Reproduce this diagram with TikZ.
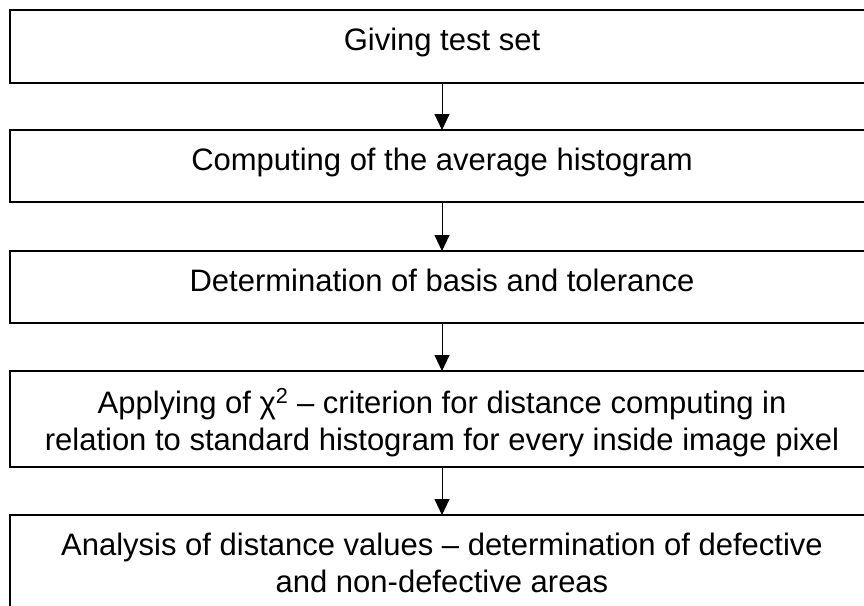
\documentclass[tikz,border=0pt]{standalone}
\usepackage{fontspec}
\setmainfont{Liberation Sans}
\usetikzlibrary{arrows.meta}
\begin{document}
\begin{tikzpicture}[x=1pt,y=-1pt,
  box/.style={draw,line width=2pt,minimum width=864pt,inner sep=0pt,outer sep=0pt,anchor=north},
  lbl/.style={anchor=base,inner sep=0pt,font=\fontsize{31}{37}\selectfont,align=center},
  arr/.style={line width=1pt,-{Triangle[width=15pt,length=16pt]}}]
\useasboundingbox (0,0) rectangle (864,605);
\clip (0,0) rectangle (864,605);
\fill[white] (0,0) rectangle (864,605);
\node[box,minimum height=73pt] (b1) at (442,10) {};
\node[box,minimum height=72pt] (b2) at (442,130) {};
\node[box,minimum height=72pt] (b3) at (442,251) {};
\node[box,minimum height=96pt] (b4) at (442,371) {};
\node[box,minimum height=96pt] (b5) at (442,515) {};
\node[lbl] (t1) at (442,50) {Giving test set};
\node[lbl] (t2) at (442,170) {Computing of the average histogram};
\node[lbl] (t3) at (442,291) {Determination of basis and tolerance};
\node[lbl] (t4) at (442,450) {Applying of χ\textsuperscript{2} – criterion for distance computing in\\relation to standard histogram for every inside image pixel};
\node[lbl] (t5) at (442,592) {Analysis of distance values – determination of defective\\and non-defective areas};
\draw[arr] (b1.south) -- (b2.north);
\draw[arr] (b2.south) -- (b3.north);
\draw[arr] (b3.south) -- (b4.north);
\draw[arr] (b4.south) -- (b5.north);
\end{tikzpicture}
\end{document}
